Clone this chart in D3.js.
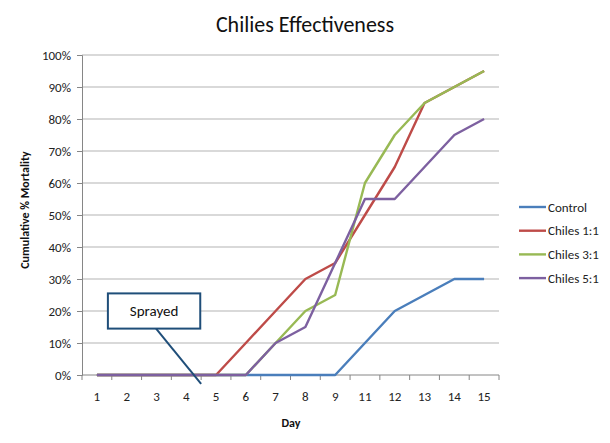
<!DOCTYPE html>
<html>
<head>
<meta charset="utf-8">
<script src="https://cdn.jsdelivr.net/npm/d3@7"></script>
<style>
  html, body { margin: 0; padding: 0; background: #fff; }
  svg { display: block; font-family: Carlito, Lato, "Open Sans", sans-serif; }
</style>
</head>
<body>
<svg id="chart" width="610" height="443"></svg>
<script>
const days = ["1","2","3","4","5","6","7","8","9","11","12","13","14","15"];
const control = [0,0,0,0,0,0,0,0,0,10,20,25,30,30];
const chiles11 = [0,0,0,0,0,10,20,30,35,50,65,85,90,95];
const chiles31 = [0,0,0,0,0,0,10,20,25,60,75,85,90,95];
const chiles51 = [0,0,0,0,0,0,10,15,35,55,55,65,75,80];
const yTicks = [0,10,20,30,40,50,60,70,80,90,100];
const seriesNames = ["Control","Chiles 1:1","Chiles 3:1","Chiles 5:1"];
const seriesValues = [control, chiles11, chiles31, chiles51];
const seriesColors = ["#4A7EBB","#BE4B48","#98B954","#7D60A0"];

const svg = d3.select("#chart");
const L = 82, R = 499, T = 55, B = 375;

const x = d3.scaleBand().domain(days).range([L, R]).paddingInner(0).paddingOuter(0);
const y = d3.scaleLinear().domain([0, 100]).range([B, T]);
const cx = d => x(d) + x.bandwidth() / 2;

// gridlines
svg.append("g").selectAll("line").data(yTicks.filter(t => t > 0)).join("line")
  .attr("x1", L).attr("x2", R)
  .attr("y1", d => y(d)).attr("y2", d => y(d))
  .attr("stroke", "#b3b3b3").attr("stroke-width", 1);

// y axis
const yAxis = svg.append("g").attr("transform", `translate(${L},0)`)
  .call(d3.axisLeft(y).tickValues(yTicks).tickFormat(d => d + "%").tickSize(5).tickPadding(6));
yAxis.select(".domain").attr("stroke", "#868686");
yAxis.selectAll(".tick line").attr("stroke", "#868686");
yAxis.selectAll(".tick text").attr("font-size", 13).attr("fill", "#222").attr("font-family", "Carlito, Lato, sans-serif");

// x axis (category axis, ticks between categories)
const xg = svg.append("g").attr("transform", `translate(0,${B})`);
xg.append("line").attr("x1", L).attr("x2", R).attr("y1", 0).attr("y2", 0).attr("stroke", "#868686");
const bounds = days.map(d => x(d)).concat([R]);
xg.selectAll("line.tk").data(bounds).join("line").attr("class", "tk")
  .attr("x1", d => d).attr("x2", d => d).attr("y1", 0).attr("y2", 5)
  .attr("stroke", "#868686");
xg.selectAll("text").data(days).join("text")
  .attr("x", d => cx(d)).attr("y", 26)
  .attr("text-anchor", "middle").attr("font-size", 13).attr("fill", "#222")
  .text(d => d);

// lines
const line = d3.line().x((v, i) => cx(days[i])).y(v => y(v));
svg.append("g").selectAll("path").data(seriesValues).join("path")
  .attr("d", d => line(d))
  .attr("fill", "none")
  .attr("stroke", (d, i) => seriesColors[i])
  .attr("stroke-width", 2.4)
  .attr("stroke-linejoin", "round");

// title
svg.append("text").attr("x", 305).attr("y", 32).attr("text-anchor", "middle")
  .attr("font-size", 22).attr("fill", "#111").text("Chilies Effectiveness");

// axis titles
svg.append("text").attr("x", 291).attr("y", 427).attr("text-anchor", "middle")
  .attr("font-size", 12).attr("font-weight", "bold").attr("fill", "#111").text("Day");
svg.append("text").attr("transform", "translate(29,210) rotate(-90)").attr("text-anchor", "middle")
  .attr("font-size", 12).attr("font-weight", "bold").attr("fill", "#111").text("Cumulative % Mortality");

// legend
const lg = svg.append("g");
seriesNames.forEach((n, i) => {
  const yy = 207 + i * 23.7;
  lg.append("line").attr("x1", 519).attr("x2", 546).attr("y1", yy).attr("y2", yy)
    .attr("stroke", seriesColors[i]).attr("stroke-width", 2.4);
  lg.append("text").attr("x", 548).attr("y", yy + 4.5).attr("font-size", 13).attr("fill", "#222").text(n);
});

// Sprayed callout (anchored via scales)
const bx0 = cx("1") + 11, bx1 = cx("4") + 14;
const by0 = y(25.5), by1 = y(14.5);
const tipX = (cx("4") + cx("5")) / 2, tipY = y(-2.8);
const baseX = (bx0 + bx1) / 2 + 2;
svg.append("line").attr("x1", baseX).attr("y1", by1).attr("x2", tipX).attr("y2", tipY)
  .attr("stroke", "#1F4E79").attr("stroke-width", 2);
svg.append("rect").attr("x", bx0).attr("y", by0).attr("width", bx1 - bx0).attr("height", by1 - by0)
  .attr("fill", "#fff").attr("stroke", "#1F4E79").attr("stroke-width", 2);
svg.append("text").attr("x", (bx0 + bx1) / 2).attr("y", (by0 + by1) / 2 + 5)
  .attr("text-anchor", "middle").attr("font-size", 15).attr("fill", "#111").text("Sprayed");
</script>
</body>
</html>
